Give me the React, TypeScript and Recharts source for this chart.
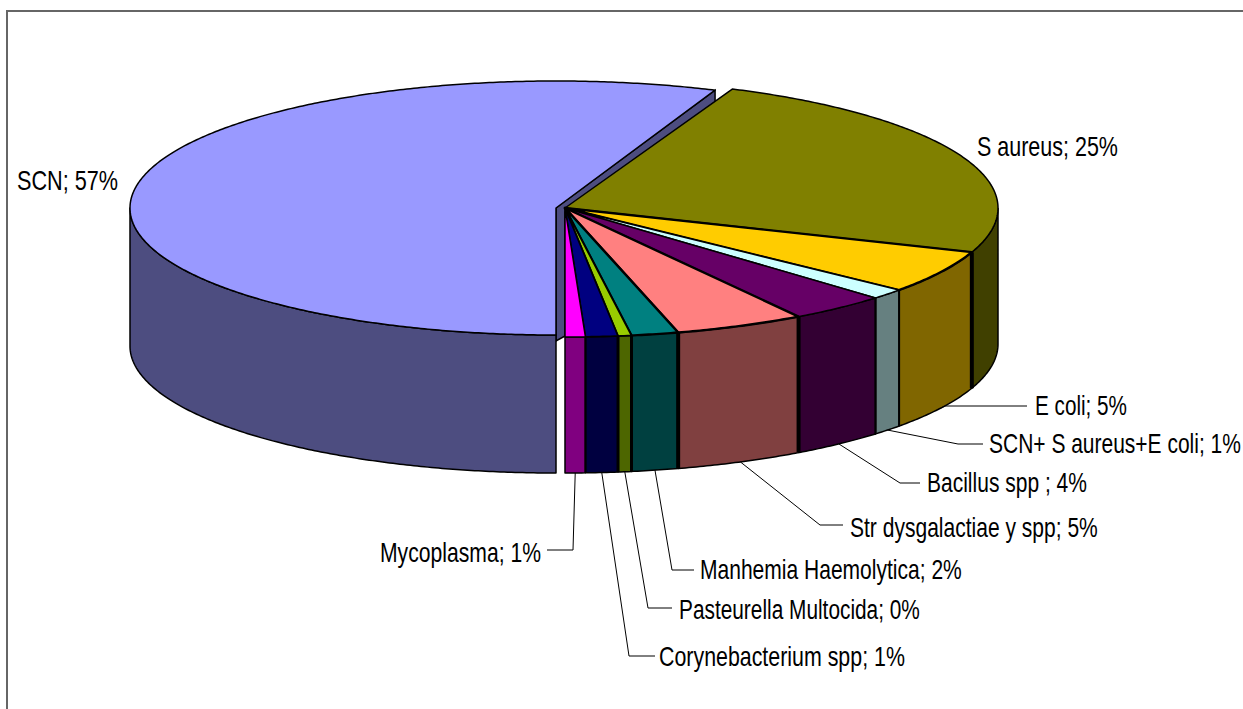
import React from "react";
import { PieChart, Pie } from "recharts";

const names = ["SCN", "S aureus", "E coli", "SCN+ S aureus+E coli", "Bacillus spp ", "Str dysgalactiae y spp", "Manhemia Haemolytica", "Pasteurella Multocida", "Corynebacterium spp", "Mycoplasma"];
const values = [56.2, 24.2, 5.4, 1.3, 3.65, 4.85, 1.75, 0.5, 1.2, 0.75];
const percentLabels = ["57%", "25%", "5%", "1%", "4%", "5%", "2%", "0%", "1%", "1%"];
const topColors = ["#9999ff", "#808000", "#ffcc00", "#ccffff", "#660066", "#ff8080", "#008080", "#99cc00", "#000080", "#ff00ff"];
const wallColors = ["#4d4d80", "#404000", "#806600", "#668080", "#330033", "#804040", "#004040", "#4d6600", "#000040", "#800080"];

const data = names.map((name, i) => ({ name, value: values[i], fill: topColors[i], wall: wallColors[i], pct: percentLabels[i] }));

// Layout of the drawing (not data)
const W = 1243, H = 709;
const CX = 565, CY = 208, RX = 433, RY = 129, DEPTH = 136;
const SCN_DX = -9, SCN_RX = 426, SCN_RY = 127, SCN_TRIM = 0.8, SCN_DEPTH = 138;
const FONT = "'Liberation Sans Narrow', 'Liberation Sans', Arial, sans-serif";
const FONT_SIZE = 27;
const labelLayout: Record<string, { x: number; y: number; w: number; bend?: [number, number]; end?: [number, number] }> = {
  "SCN": { x: 17, y: 190, w: 101 },
  "S aureus": { x: 977, y: 156, w: 141 },
  "E coli": { x: 1035, y: 415, w: 92, bend: [945, 406], end: [1027, 406] },
  "SCN+ S aureus+E coli": { x: 989, y: 453, w: 252, bend: [958, 444], end: [983, 444] },
  "Bacillus spp ": { x: 927, y: 492, w: 160, bend: [900, 483], end: [920, 483] },
  "Str dysgalactiae y spp": { x: 850, y: 537, w: 248, bend: [820, 525], end: [843, 525] },
  "Manhemia Haemolytica": { x: 700, y: 579, w: 262, bend: [672, 570], end: [694, 570] },
  "Pasteurella Multocida": { x: 679, y: 619, w: 241, bend: [648, 608], end: [672, 608] },
  "Corynebacterium spp": { x: 659, y: 666, w: 246, bend: [629, 656], end: [655, 656] },
  "Mycoplasma": { x: 380, y: 562, w: 161, bend: [573, 550], end: [547, 550] },
};
const edgeWidths: Record<string, number> = {
  "E coli": 4, "SCN+ S aureus+E coli": 2, "Bacillus spp ": 2, "Str dysgalactiae y spp": 4,
  "Manhemia Haemolytica": 4, "Pasteurella Multocida": 3, "Corynebacterium spp": 3, "Mycoplasma": 2,
};

const rad = (d: number) => (d * Math.PI) / 180;

let measureCtx: CanvasRenderingContext2D | null = null;
function naturalWidth(text: string): number {
  if (!measureCtx) measureCtx = document.createElement("canvas").getContext("2d");
  if (!measureCtx) return 0;
  measureCtx.font = `${FONT_SIZE}px ${FONT}`;
  return measureCtx.measureText(text).width;
}

function Slice(props: any) {
  const { cx, cy, startAngle, endAngle, fill, name, payload } = props;
  const isScn = name === "SCN";
  const c = isScn ? cx + SCN_DX : cx;
  const rx = isScn ? SCN_RX : RX;
  const ry = isScn ? SCN_RY : RY;
  const depth = isScn ? SCN_DEPTH : DEPTH;
  const pt = (a: number, dy = 0): [number, number] => [c + rx * Math.cos(rad(a)), cy - ry * Math.sin(rad(a)) + dy];
  const lo = Math.min(startAngle, endAngle) + (isScn ? SCN_TRIM : 0), hi = Math.max(startAngle, endAngle);
  const rim: number[] = [];
  for (let a = hi; a > lo; a -= 0.5) rim.push(a);
  rim.push(lo);
  const top = `M${c},${cy} ` + rim.map((a) => `L${pt(a).join(",")}`).join(" ") + " Z";
  const front = rim.filter((a) => Math.sin(rad(a)) <= 0.0001);
  const wall = front.length > 1
    ? "M" + front.map((a) => pt(a).join(",")).join(" L") + " L" + [...front].reverse().map((a) => pt(a, depth).join(",")).join(" L") + " Z"
    : "";
  const startEdge = pt(hi);
  const edge = edgeWidths[name] ?? 0;
  const e = pt(lo);
  return (
    <g>
      {isScn && (
        <path
          d={`M${c},${cy} L${e[0]},${e[1]} L${e[0]},${e[1] + 12} L${cx},${cy + 4} L${cx},${cy + RY - 1} L${c},${cy + RY + 4} Z`}
          fill={payload.wall}
          stroke="#000"
          strokeWidth={1.5}
        />
      )}
      {wall && <path d={wall} fill={payload.wall} stroke="#000" strokeWidth={1.5} strokeLinejoin="round" />}
      {edge > 0 && (
        <line x1={startEdge[0]} y1={startEdge[1]} x2={startEdge[0]} y2={startEdge[1] + depth} stroke="#000" strokeWidth={edge} />
      )}
      <path d={top} fill={fill} stroke="#000" strokeWidth={Math.max(1.5, edge * 0.6)} strokeLinejoin="round" />
    </g>
  );
}

function SliceLabel(props: any) {
  const { cx, cy, midAngle, name, index } = props;
  const layout = labelLayout[name];
  const row = data[index];
  if (!layout || !row) return null;
  const ax = cx + RX * Math.cos(rad(midAngle));
  const ay = cy - RY * Math.sin(rad(midAngle)) + DEPTH;
  const text = `${name}; ${row.pct}`;
  const natural = naturalWidth(text);
  const sx = natural > 0 ? layout.w / natural : 1;
  return (
    <g>
      {layout.bend && layout.end && (
        <polyline points={`${ax},${ay} ${layout.bend.join(",")} ${layout.end.join(",")}`} fill="none" stroke="#000" strokeWidth={1} />
      )}
      <text transform={`translate(${layout.x},${layout.y}) scale(${sx},1)`} x={0} y={0} fontFamily={FONT} fontSize={FONT_SIZE} fill="#000">
        {text}
      </text>
    </g>
  );
}

export default function App() {
  return (
    <div style={{ position: "absolute", left: 0, top: 0, width: W, height: H, overflow: "hidden", background: "#fff" }}>
      <div style={{ position: "absolute", left: 6, top: 10, width: 1300, height: 800, borderLeft: "2px solid #666", borderTop: "2px solid #666", boxSizing: "border-box" }} />
      <PieChart width={W} height={H} margin={{ top: 0, right: 0, bottom: 0, left: 0 }}>
        <Pie
          data={data}
          dataKey="value"
          nameKey="name"
          cx={CX}
          cy={CY}
          innerRadius={0}
          outerRadius={RX}
          startAngle={-90}
          endAngle={-450}
          isAnimationActive={false}
          shape={Slice}
          label={SliceLabel}
          labelLine={false}
        />
      </PieChart>
    </div>
  );
}
